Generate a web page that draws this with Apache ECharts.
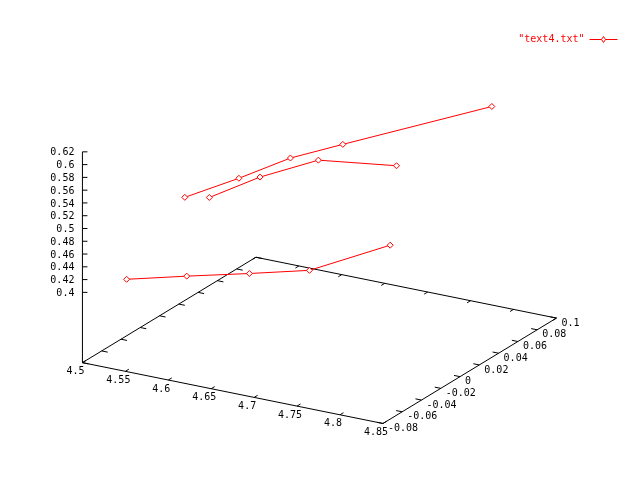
<!DOCTYPE html>
<html><head><meta charset="utf-8">
<script src="https://cdn.jsdelivr.net/npm/echarts@6/dist/echarts.min.js"></script>
<style>html,body{margin:0;padding:0;background:#fff}#c{width:640px;height:480px}</style>
</head><body><div id="c"></div>
<script>
// ---- tick labels ----
const xTicks = ['4.5','4.55','4.6','4.65','4.7','4.75','4.8','4.85'];
const yTicks = ['-0.08','-0.06','-0.04','-0.02','0','0.02','0.04','0.06','0.08','0.1'];
const zTicks = ['0.4','0.42','0.44','0.46','0.48','0.5','0.52','0.54','0.56','0.58','0.6','0.62'];

// ---- data of "text4.txt" (three blocks) ----
const seriesName = '"text4.txt"';
const block1X = [4.529, 4.599, 4.672, 4.742, 4.836];
const block1Y = [-0.06, -0.06, -0.06, -0.06, -0.06];
const block1Z = [0.410, 0.434, 0.458, 0.482, 0.547];
const block2X = [4.507, 4.570, 4.630, 4.691, 4.786];
const block2Y = [0.02, 0.02, 0.02, 0.02, 0.09];
const block2Z = [0.459, 0.506, 0.554, 0.592, 0.613];
const block3X = [4.558, 4.617, 4.685, 4.776];
const block3Y = [0, 0, 0, 0];
const block3Z = [0.491, 0.539, 0.584, 0.600];

// ---- 3D view (gnuplot default: view 60,30, ticslevel 0.5) ----
const ROT_X = 60 * Math.PI / 180, ROT_Z = 30 * Math.PI / 180, TICSLEVEL = 0.5;
const X0 = +xTicks[0], X1 = +xTicks[xTicks.length - 1];
const Y0 = +yTicks[0], Y1 = +yTicks[yTicks.length - 1];
const Z0 = +zTicks[0], Z1 = +zTicks[zTicks.length - 1];
const ZB = Z0 - TICSLEVEL * (Z1 - Z0);
function project(x, y, z) {
  const xn = 2 * (x - X0) / (X1 - X0) - 1;
  const yn = 2 * (y - Y0) / (Y1 - Y0) - 1;
  const zn = 2 * (z - ZB) / (Z1 - ZB) - 1;
  const h = xn * Math.cos(ROT_Z) + yn * Math.sin(ROT_Z);
  const d = -xn * Math.sin(ROT_Z) + yn * Math.cos(ROT_Z);
  const v = d * Math.cos(ROT_X) + zn * Math.sin(ROT_X);
  return [h, v];
}

const FONT = '10px "DejaVu Sans Mono", monospace';
const TIC = 0.02;
const AX = { stroke: '#000', lineWidth: 1, fill: null };
const RED = '#ff0000';

const blocks = [[block1X, block1Y, block1Z], [block2X, block2Y, block2Z], [block3X, block3Y, block3Z]];
const pts = [];
blocks.forEach((b, bi) => b[0].forEach((x, i) => pts.push([x, b[1][i], b[2][i], bi])));

function seg(p, q, style) {
  return { type: 'line', shape: { x1: p[0], y1: p[1], x2: q[0], y2: q[1] }, style: style };
}

const chart = echarts.init(document.getElementById('c'), null, { renderer: 'canvas' });
chart.setOption({
  animation: false,
  backgroundColor: '#fff',
  grid: { left: 145.93, width: 347.0, top: 113.25, height: 243.42 },
  xAxis: { type: 'value', min: -1, max: 1, show: false },
  yAxis: { type: 'value', min: -1, max: 1, show: false },
  legend: {
    data: [{ name: seriesName, icon: 'path://M0,3L12,3M12,3L14,0L16,3L14,6ZM16,3L28,3' }],
    right: 22, top: 34.5, padding: 0, align: 'right', selectedMode: false,
    itemWidth: 28, itemHeight: 6,
    textStyle: { color: RED, fontFamily: '"DejaVu Sans Mono", monospace', fontSize: 10 },
    itemStyle: { color: 'rgba(0,0,0,0)', borderColor: RED, borderWidth: 1 }
  },
  series: [
    { // base plane and z axis
      type: 'custom', name: 'frame', silent: true, data: [[0, 0]],
      renderItem: (params, api) => {
        const P = (x, y, z) => api.coord(project(x, y, z));
        const a = P(X0, Y0, ZB), b = P(X1, Y0, ZB), c = P(X1, Y1, ZB), d = P(X0, Y1, ZB), t = P(X0, Y0, Z1);
        return { type: 'group', children: [
          { type: 'polyline', shape: { points: [a, b, c, d, a] }, style: AX },
          seg(a, t, AX)
        ] };
      }
    },
    { // x tics
      type: 'custom', name: 'xtics', silent: true, data: xTicks.map(v => [+v, 0]),
      renderItem: (params, api) => {
        const x = api.value(0);
        const P = (x, y, z) => api.coord(project(x, y, z));
        const f = P(x, Y0, ZB), g = P(x, Y1, ZB);
        return { type: 'group', children: [
          seg(f, P(x, Y0 + TIC * (Y1 - Y0), ZB), AX),
          seg(g, P(x, Y1 - TIC * (Y1 - Y0), ZB), AX),
          { type: 'text', x: f[0] - 7, y: f[1] + 9, style: { text: xTicks[params.dataIndex], font: FONT, fill: '#000', align: 'center', verticalAlign: 'middle' } }
        ] };
      }
    },
    { // y tics
      type: 'custom', name: 'ytics', silent: true, data: yTicks.map(v => [+v, 0]),
      renderItem: (params, api) => {
        const y = api.value(0);
        const P = (x, y, z) => api.coord(project(x, y, z));
        const f = P(X1, y, ZB), g = P(X0, y, ZB);
        return { type: 'group', children: [
          seg(f, P(X1 - TIC * (X1 - X0), y, ZB), AX),
          seg(g, P(X0 + TIC * (X1 - X0), y, ZB), AX),
          { type: 'text', x: f[0] + 5, y: f[1] + 5, style: { text: yTicks[params.dataIndex], font: FONT, fill: '#000', align: 'left', verticalAlign: 'middle' } }
        ] };
      }
    },
    { // z tics
      type: 'custom', name: 'ztics', silent: true, data: zTicks.map(v => [+v, 0]),
      renderItem: (params, api) => {
        const z = api.value(0);
        const f = api.coord(project(X0, Y0, z));
        return { type: 'group', children: [
          seg(f, [f[0] + 5, f[1]], AX),
          { type: 'text', x: f[0] - 8, y: f[1] + 1, style: { text: zTicks[params.dataIndex], font: FONT, fill: '#000', align: 'right', verticalAlign: 'middle' } }
        ] };
      }
    },
    { // data: lines + points
      type: 'custom', name: seriesName, silent: true,
      dimensions: ['x', 'y', 'z', 'block'],
      data: pts,
      itemStyle: { color: RED },
      renderItem: (params, api) => {
        const i = params.dataIndex;
        const p = api.coord(project(api.value(0), api.value(1), api.value(2)));
        const children = [];
        const n = pts[i + 1];
        if (n && n[3] === pts[i][3]) {
          const q = api.coord(project(n[0], n[1], n[2]));
          children.push(seg(p, q, { stroke: RED, lineWidth: 1 }));
        }
        const s = 3;
        children.push({ type: 'polygon', shape: { points: [[p[0] - s, p[1]], [p[0], p[1] - s], [p[0] + s, p[1]], [p[0], p[1] + s]] },
          style: { stroke: RED, fill: '#fff', lineWidth: 1 } });
        return { type: 'group', children: children };
      }
    }
  ]
});
</script>
</body></html>
